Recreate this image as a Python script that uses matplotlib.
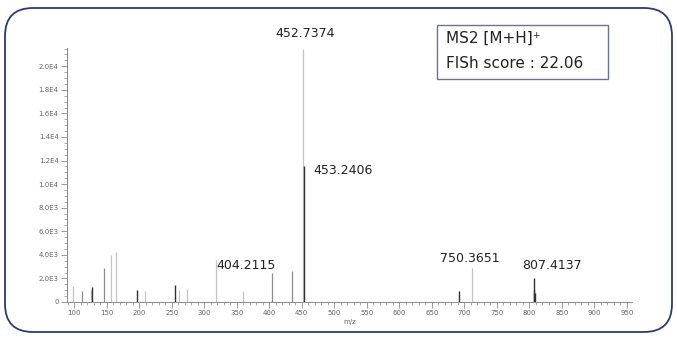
import numpy as np
import matplotlib
matplotlib.use("Agg")
import matplotlib.pyplot as plt
from matplotlib.patches import FancyBboxPatch, Rectangle
from matplotlib.ticker import MultipleLocator, FuncFormatter

# peaks, grouped by the shade they were drawn in
mz_light = [98.9, 126.0, 156.5, 164.2, 208.2, 262.0, 274.3, 318.5, 359.0, 452.7374, 711.5]
int_light = [1320, 1000, 4000, 4200, 900, 1040, 1100, 3600, 950, 21500, 2860]

mz_mid = [112.8, 146.6, 404.2115, 435.8]
int_mid = [900, 2880, 2450, 2650]

mz_dark = [127.7, 196.5, 255.4, 453.2406, 692.0, 806.9, 807.4137, 808.4]
int_dark = [1250, 1040, 1470, 11500, 960, 1000, 2050, 800]

# labelled peaks (text, x, y)
labels = [("452.7374", 455.3, 22800),
          ("453.2406", 467.6, 11190),
          ("404.2115", 318.4, 3136),
          ("750.3651", 663.0, 3730),
          ("807.4137", 789.0, 3136)]

info_lines = ["MS2 [M+H]\u207a", "FISh score : 22.06"]

W, H = 677, 338
fig = plt.figure(figsize=(W / 100, H / 100), dpi=100)
ax = fig.add_axes([67 / W, 1 - 302 / H, (632 - 67) / W, (302 - 48) / H])

ax.vlines(mz_light, 0, int_light, color="#c4c4c4", lw=0.9)
ax.vlines(mz_mid, 0, int_mid, color="#8c8c8c", lw=0.9)
ax.vlines(mz_dark, 0, int_dark, color="#303030", lw=1.0)

ax.set_xlim(89, 958)
ax.set_ylim(0, 21550)

for s in ["top", "right"]:
    ax.spines[s].set_visible(False)
for s in ["left", "bottom"]:
    ax.spines[s].set_color("#8a8a8a")
    ax.spines[s].set_linewidth(0.7)

ax.xaxis.set_major_locator(MultipleLocator(50))
ax.xaxis.set_minor_locator(MultipleLocator(10))
ax.yaxis.set_major_locator(MultipleLocator(2000))
ax.yaxis.set_minor_locator(MultipleLocator(500))


def sci(v, pos):
    if v <= 0:
        return "0"
    e = int(np.floor(np.log10(v)))
    return "%.1fE%d" % (v / 10 ** e, e)


ax.yaxis.set_major_formatter(FuncFormatter(sci))
ax.tick_params(which="major", length=4, width=0.6, color="#8a8a8a",
               labelsize=5, labelcolor="#666666", pad=2)
ax.tick_params(which="minor", length=2, width=0.5, color="#8a8a8a")
ax.set_xlabel("m/z", fontsize=5, color="#666666", labelpad=2)

for txt, x, y in labels:
    ha = "center" if txt == "452.7374" else "left"
    ax.text(x, y, txt, ha=ha, va="center", fontsize=9, color="#222222",
            clip_on=False)

# info box
fig.add_artist(Rectangle((437 / W, 1 - 79 / H), (608 - 437) / W, (79 - 25) / H,
                         transform=fig.transFigure, fill=False,
                         edgecolor="#6b7394", lw=1.0))
fig.text(446 / W, 1 - 38 / H, info_lines[0], fontsize=11, va="center", color="#222222")
fig.text(446 / W, 1 - 63 / H, info_lines[1], fontsize=11, va="center", color="#222222")

# rounded outer frame, in inches so the corners stay round
frame = FancyBboxPatch((0.05, 0.06), 6.67, 3.24,
                       boxstyle="round,pad=0,rounding_size=0.28",
                       transform=fig.dpi_scale_trans, fill=False,
                       edgecolor="#2c3a78", lw=1.3)
fig.add_artist(frame)

fig.savefig("out.png", dpi=100)
